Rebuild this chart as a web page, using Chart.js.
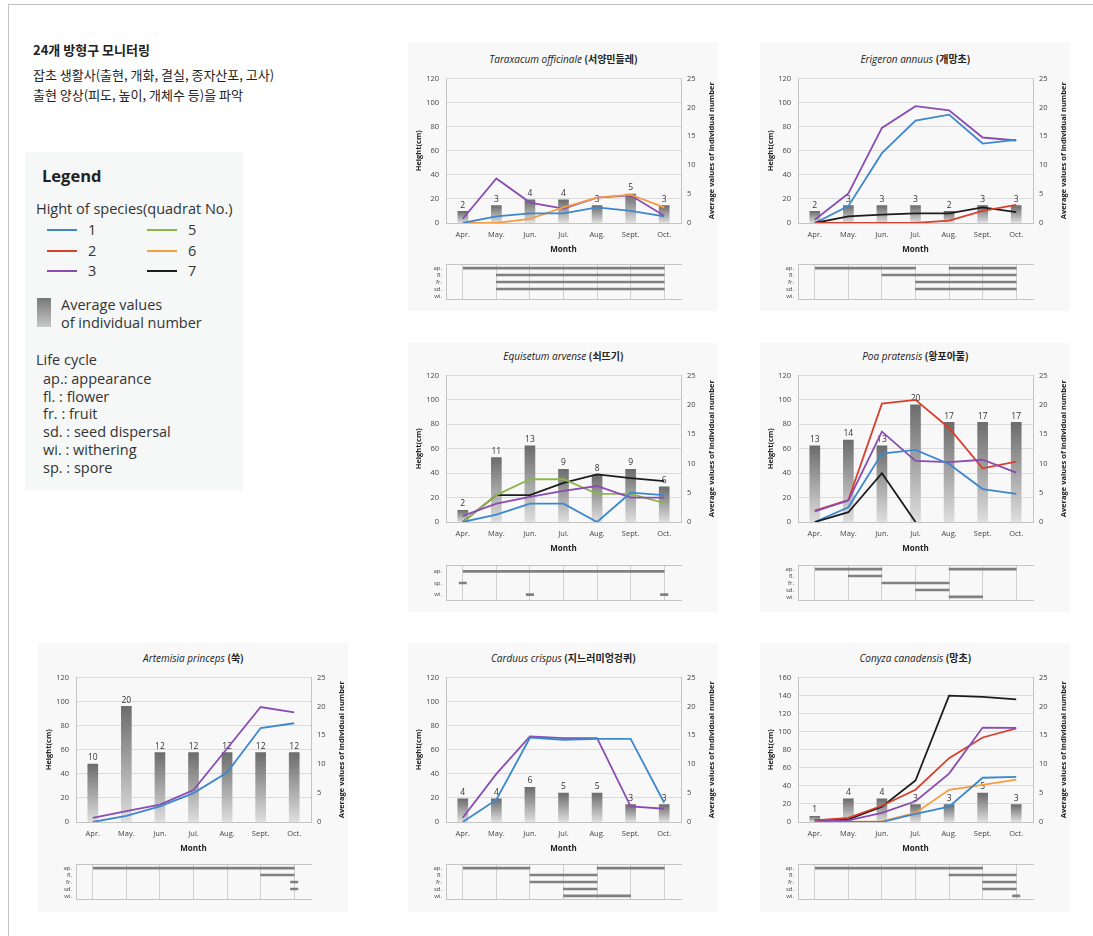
<!DOCTYPE html>
<html>
<head>
<meta charset="utf-8">
<title>24개 방형구 모니터링</title>
<script src="https://cdn.jsdelivr.net/npm/chart.js@4.4.1/dist/chart.umd.min.js"></script>
<style>
  html, body { margin: 0; padding: 0; }
  body { width: 1093px; height: 936px; position: relative; overflow: hidden; background: #fff;
         font-family: "Noto Sans CJK KR", "Noto Sans", sans-serif; color: #222; }
  .frame { position: absolute; left: 8px; top: 4px; width: 1100px; height: 940px;
           border-left: 1px solid #c2c2c2; border-top: 1px solid #c2c2c2; }
  .head { position: absolute; left: 33px; white-space: nowrap; font-size: 13px; line-height: 1; transform: translateY(-50%); }
  .head.b { font-weight: bold; }
  .legend-box { position: absolute; left: 25px; top: 152px; width: 218px; height: 338px; background: #f6f8f8; }
  .lg { position: absolute; white-space: nowrap; font-family: "Open Sans", "Noto Sans", sans-serif; font-size: 14.5px;
        line-height: 1; transform: translateY(-50%); color: #333; }
  .lg.big { font-weight: bold; font-size: 16.5px; color: #222; }
  .swatch { position: absolute; height: 2px; width: 30px; }
  .panel { position: absolute; background: #f8f8f8; }
  .ptitle { position: absolute; white-space: nowrap; font-size: 10px; line-height: 1; color: #222;
            transform: translate(-50%, -50%); }
  .ptitle i { font-family: "Open Sans", "Noto Sans", sans-serif; font-style: italic; }
  .ptitle b { font-family: "Noto Sans CJK KR", sans-serif; font-weight: bold; }
  canvas { position: absolute; }
</style>
</head>
<body>
<div class="frame"></div>

<div class="head b" style="top:49px">24개 방형구 모니터링</div>
<div class="head" style="top:74px">잡초 생활사(출현, 개화, 결실, 종자산포, 고사)</div>
<div class="head" style="top:94px">출현 양상(피도, 높이, 개체수 등)을 파악</div>

<div class="legend-box"></div>
<div id="legend"></div>

<script>
// ---- categories ----
const months = ['Apr.', 'May.', 'Jun.', 'Jul.', 'Aug.', 'Sept.', 'Oct.'];
const cycleRows = ['ap.', 'fl.', 'fr.', 'sd.', 'wi.'];
const sporeRows = ['ap.', 'sp.', 'wi.'];
const heightStep = 20;
const countMax = 25;
const countStep = 5;

// ---- Taraxacum officinale (서양민들레) ----
const taraxacumCount = [2, 3, 4, 4, 3, 5, 3];
const taraxacumQ1 = [0, 5.5, 8, 8, 13, 10, 5.5];
const taraxacumQ3 = [3.5, 37, 17, 12, 21, 23, 6];
const taraxacumQ6 = [0, 0, 3.5, 13, 21, 23.5, 13];
// life cycle segments: [row, first month, last month]
const taraxacumCycle = [[0, 0, 6], [1, 1, 6], [2, 1, 6], [3, 1, 6]];

// ---- Erigeron annuus (개망초) ----
const erigeronCount = [2, 3, 3, 3, 2, 3, 3];
const erigeronQ1 = [0, 14, 58, 85, 90, 66, 69];
const erigeronQ2 = [0, 0, 0, 0, 2, 10, 15];
const erigeronQ3 = [2.7, 24.5, 79, 97, 93.5, 71, 68.5];
const erigeronQ7 = [0, 5.5, 7, 8, 8, 13, 9];
const erigeronCycle = [[0, 0, 3], [0, 4, 6], [1, 2, 6], [2, 3, 6], [3, 3, 6]];

// ---- Equisetum arvense (쇠뜨기) ----
const equisetumCount = [2, 11, 13, 9, 8, 9, 6];
const equisetumQ1 = [0, 6, 15, 15, 0, 24, 22];
const equisetumQ3 = [5, 15, 20.5, 25.5, 29.5, 20, 20];
const equisetumQ5 = [0, 22, 35, 35, 23, 23, 15.5];
const equisetumQ7 = [0, 22, 22, 32, 39, 36, 33.5];
const equisetumCycle = [[0, 0, 6], [1, 0, 0], [2, 2, 2], [2, 6, 6]];

// ---- Poa pratensis (왕포아풀) ----
const poaCount = [13, 14, 13, 20, 17, 17, 17];
const poaQ1 = [0, 12, 56, 59, 47.5, 27, 23];
const poaQ2 = [9.3, 18, 97, 100, 77, 44, 49.5];
const poaQ3 = [8.7, 17.7, 74, 50, 49, 51, 40.5];
const poaQ7 = [0, 8, 40, 0, null, null, null];
const poaCycle = [[0, 0, 2], [0, 4, 6], [1, 1, 2], [2, 2, 4], [3, 3, 4], [4, 4, 5]];

// ---- Artemisia princeps (쑥) ----
const artemisiaCount = [10, 20, 12, 12, 12, 12, 12];
const artemisiaQ1 = [0, 5, 13, 24, 41, 78, 82];
const artemisiaQ3 = [3.5, 9, 14.5, 26.5, 61, 95.5, 91];
const artemisiaCycle = [[0, 0, 6], [1, 5, 6], [2, 6, 6], [3, 6, 6]];

// ---- Carduus crispus (지느러미엉겅퀴) ----
const carduusCount = [4, 4, 6, 5, 5, 3, 3];
const carduusQ1 = [0, 18.5, 70, 68.3, 69, 69, 16];
const carduusQ3 = [3.5, 40, 71, 69.7, 69.7, 13, 11];
const carduusCycle = [[0, 0, 2], [0, 4, 6], [1, 2, 4], [2, 2, 4], [3, 3, 4], [4, 3, 5]];

// ---- Conyza canadensis (망초) ----
const conyzaCount = [1, 4, 4, 3, 3, 5, 3];
const conyzaQ1 = [0, 0, 0, 9, 17, 49, 50];
const conyzaQ2 = [1.8, 4.6, 18, 35.7, 70.7, 93.6, 103.6];
const conyzaQ3 = [0.7, 1.8, 10, 23, 53.6, 104.6, 104.3];
const conyzaQ6 = [0, 0, 0.7, 10, 35.7, 41, 47];
const conyzaQ7 = [1.8, 2.9, 17, 46, 140, 138.6, 135.7];
const conyzaCycle = [[0, 0, 5], [1, 4, 6], [2, 5, 6], [3, 5, 6], [4, 6, 6]];

// ---- quadrat colours ----
const quadratColors = { 1: '#3d87cf', 2: '#d8402e', 3: '#8a4cb3', 5: '#8cb64b', 6: '#f59d45', 7: '#1c1c1c' };

// ---- page geometry ----
const PANEL_W = 310, PANEL_H = 269;
const AXIS_L = 38, PLOT_W = 235, AXIS_R = PANEL_W - AXIS_L - PLOT_W;
const PAD_T = 8, X_AXIS_H = 32, STRIP_H = 50;
const DASH = 0.11; // half width of a single-month life-cycle mark
const rowGeom = [
  { panelTop: 42,  plotTop: 75,  plotH: 148, stripTop: 257 },
  { panelTop: 343, plotTop: 372, plotH: 150, stripTop: 558 },
  { panelTop: 643, plotTop: 674, plotH: 148, stripTop: 857 }
];

const panels = [
  { x: 408, row: 0, latin: 'Taraxacum officinale', korean: '(서양민들레)', hMax: 120, count: taraxacumCount,
    lines: [[1, taraxacumQ1], [6, taraxacumQ6], [3, taraxacumQ3]], rows: cycleRows, cycle: taraxacumCycle },
  { x: 760, row: 0, latin: 'Erigeron annuus', korean: '(개망초)', hMax: 120, count: erigeronCount,
    lines: [[2, erigeronQ2], [7, erigeronQ7], [1, erigeronQ1], [3, erigeronQ3]], rows: cycleRows, cycle: erigeronCycle },
  { x: 408, row: 1, latin: 'Equisetum arvense', korean: '(쇠뜨기)', hMax: 120, count: equisetumCount,
    lines: [[1, equisetumQ1], [3, equisetumQ3], [5, equisetumQ5], [7, equisetumQ7]], rows: sporeRows, cycle: equisetumCycle },
  { x: 760, row: 1, latin: 'Poa pratensis', korean: '(왕포아풀)', hMax: 120, count: poaCount,
    lines: [[7, poaQ7], [1, poaQ1], [3, poaQ3], [2, poaQ2]], rows: cycleRows, cycle: poaCycle },
  { x: 38, row: 2, latin: 'Artemisia princeps', korean: '(쑥)', hMax: 120, count: artemisiaCount,
    lines: [[1, artemisiaQ1], [3, artemisiaQ3]], rows: cycleRows, cycle: artemisiaCycle },
  { x: 408, row: 2, latin: 'Carduus crispus', korean: '(지느러미엉겅퀴)', hMax: 120, count: carduusCount,
    lines: [[1, carduusQ1], [3, carduusQ3]], rows: cycleRows, cycle: carduusCycle },
  { x: 760, row: 2, latin: 'Conyza canadensis', korean: '(망초)', hMax: 160, count: conyzaCount,
    lines: [[1, conyzaQ1], [6, conyzaQ6], [3, conyzaQ3], [2, conyzaQ2], [7, conyzaQ7]], rows: cycleRows, cycle: conyzaCycle }
];

Chart.defaults.font.family = '"Open Sans", "Noto Sans", sans-serif';
Chart.defaults.color = '#444';

// count labels above each bar, drawn right after the bars so lines pass over them
const barLabels = {
  id: 'barLabels',
  afterDatasetDraw(chart, args) {
    if (args.index !== 0) return;
    const ctx = chart.ctx;
    const values = chart.data.datasets[0].data;
    ctx.save();
    ctx.font = '8.5px "Open Sans", "Noto Sans", sans-serif';
    ctx.fillStyle = '#333';
    ctx.textAlign = 'center';
    ctx.textBaseline = 'bottom';
    args.meta.data.forEach((el, i) => ctx.fillText(String(values[i]), el.x, el.y - 2));
    ctx.restore();
  }
};

// right-hand axis title, reading upward
const rightTitle = {
  id: 'rightTitle',
  afterDraw(chart) {
    const a = chart.chartArea, ctx = chart.ctx;
    ctx.save();
    ctx.translate(a.right + 31, (a.top + a.bottom) / 2);
    ctx.rotate(-Math.PI / 2);
    ctx.font = 'bold 7.5px "Open Sans", "Noto Sans", sans-serif';
    ctx.fillStyle = '#222';
    ctx.textAlign = 'center';
    ctx.textBaseline = 'middle';
    ctx.fillText('Average values of individual number', 0, 0);
    ctx.restore();
  }
};

function barGradient(c) {
  const chart = c.chart;
  const y2 = chart.scales.y2;
  if (!chart.chartArea || !y2 || c.type !== 'data') return '#9a9a9a';
  const top = y2.getPixelForValue(c.raw);
  const bottom = y2.getPixelForValue(0);
  if (!isFinite(top) || !isFinite(bottom) || bottom - top < 1) return '#9a9a9a';
  const g = chart.ctx.createLinearGradient(0, top, 0, bottom);
  g.addColorStop(0, '#6c6c6c');
  g.addColorStop(1, '#dedede');
  return g;
}

function addCanvas(left, top, w, h) {
  const cv = document.createElement('canvas');
  cv.width = w; cv.height = h;
  cv.style.left = left + 'px'; cv.style.top = top + 'px';
  cv.style.width = w + 'px'; cv.style.height = h + 'px';
  document.body.appendChild(cv);
  return cv;
}

function buildPanel(p) {
  const g = rowGeom[p.row];

  const bg = document.createElement('div');
  bg.className = 'panel';
  Object.assign(bg.style, { left: p.x + 'px', top: g.panelTop + 'px', width: PANEL_W + 'px', height: PANEL_H + 'px' });
  document.body.appendChild(bg);

  const t = document.createElement('div');
  t.className = 'ptitle';
  t.innerHTML = '<i>' + p.latin + '</i> <b>' + p.korean + '</b>';
  t.style.left = (p.x + AXIS_L + PLOT_W / 2) + 'px';
  t.style.top = (g.plotTop - 16) + 'px';
  document.body.appendChild(t);

  // height lines + individual-count bars
  const main = addCanvas(p.x, g.plotTop - PAD_T, PANEL_W, PAD_T + g.plotH + X_AXIS_H);
  const datasets = [{
    type: 'bar', data: p.count, yAxisID: 'y2', order: 2,
    backgroundColor: barGradient, borderWidth: 0, barThickness: 10
  }];
  p.lines.forEach(([q, values]) => datasets.push({
    type: 'line', data: values, yAxisID: 'y', order: 1,
    borderColor: quadratColors[q], borderWidth: 1.8, pointRadius: 0, tension: 0, fill: false, spanGaps: false
  }));

  new Chart(main, {
    type: 'bar',
    data: { labels: months, datasets },
    options: {
      responsive: false, animation: false, events: [],
      layout: { padding: { top: PAD_T, left: 0, right: 0, bottom: 0 }, autoPadding: false },
      plugins: { legend: { display: false }, tooltip: { enabled: false } },
      scales: {
        x: {
          type: 'category', offset: true,
          grid: { display: false, drawTicks: false },
          border: { color: '#c4c4c4' },
          ticks: { font: { size: 7.5 }, color: '#444', padding: 7, autoSkip: false, maxRotation: 0 },
          title: { display: true, text: 'Month', font: { size: 8, weight: 'bold' }, color: '#222', padding: { top: 2, bottom: 0 } },
          afterFit: s => { s.height = X_AXIS_H; }
        },
        y: {
          position: 'left', min: 0, max: p.hMax,
          ticks: { stepSize: heightStep, font: { size: 7.5 }, color: '#444', padding: 7 },
          grid: { color: '#dadada', drawTicks: false },
          border: { color: '#c4c4c4' },
          title: { display: true, text: 'Height(cm)', font: { size: 7.5, weight: 'bold' }, color: '#222', padding: { top: 6, bottom: 0 } },
          afterFit: s => { s.width = AXIS_L; }
        },
        y2: {
          position: 'right', min: 0, max: countMax,
          ticks: { stepSize: countStep, font: { size: 7.5 }, color: '#444', padding: 6 },
          grid: { drawOnChartArea: false, drawTicks: false },
          border: { color: '#c4c4c4' },
          afterFit: s => { s.width = AXIS_R; }
        }
      }
    },
    plugins: [barLabels, rightTitle]
  });

  // life-cycle strip on the same month positions
  const strip = addCanvas(p.x, g.stripTop, PANEL_W, STRIP_H);
  const segs = p.cycle.map(([r, s, e]) => ({ y: p.rows[r], x: s === e ? [s - DASH, s + DASH] : [s, e] }));
  new Chart(strip, {
    type: 'bar',
    data: { labels: p.rows, datasets: [{ data: segs, backgroundColor: '#808080', borderWidth: 0, barThickness: 2, grouped: false }] },
    options: {
      indexAxis: 'y', responsive: false, animation: false, events: [],
      layout: { padding: { top: 1, bottom: 1, left: 0, right: AXIS_R }, autoPadding: false },
      plugins: { legend: { display: false }, tooltip: { enabled: false } },
      scales: {
        x: {
          type: 'linear', min: -0.5, max: months.length - 0.5,
          afterBuildTicks: s => { s.ticks = months.map((_, i) => ({ value: i })); },
          ticks: { display: false },
          grid: { color: '#cfcfcf', drawTicks: false },
          border: { color: '#c4c4c4' },
          afterFit: s => { s.height = 0; }
        },
        xTop: {
          type: 'linear', position: 'top', min: -0.5, max: months.length - 0.5,
          ticks: { display: false },
          grid: { display: false, drawTicks: false },
          border: { color: '#c4c4c4' },
          afterFit: s => { s.height = 0; }
        },
        y: {
          type: 'category',
          ticks: { font: { size: 6 }, color: '#444', padding: 4, autoSkip: false },
          grid: { display: false, drawTicks: false },
          border: { color: '#c4c4c4' },
          afterFit: s => { s.width = AXIS_L; }
        }
      }
    }
  });
}

panels.forEach(buildPanel);

// ---- legend ----
const legend = document.getElementById('legend');
function lg(text, left, top, cls) {
  const d = document.createElement('div');
  d.className = 'lg' + (cls ? ' ' + cls : '');
  d.textContent = text;
  d.style.left = left + 'px'; d.style.top = top + 'px';
  legend.appendChild(d);
}
function sw(color, left, top) {
  const d = document.createElement('div');
  d.className = 'swatch';
  d.style.background = color; d.style.left = left + 'px'; d.style.top = (top - 1) + 'px';
  legend.appendChild(d);
}
lg('Legend', 42, 176, 'big');
lg('Hight of species(quadrat No.)', 36, 209);
[[1, 0, 0], [2, 0, 1], [3, 0, 2], [5, 1, 0], [6, 1, 1], [7, 1, 2]].forEach(([q, col, row]) => {
  const y = 230 + row * 20.5;
  const x = col === 0 ? 47 : 147;
  sw(quadratColors[q], x, y);
  lg(String(q), x + 41, y);
});
const bar = document.createElement('div');
Object.assign(bar.style, { position: 'absolute', left: '37px', top: '298px', width: '14px', height: '29px',
  background: 'linear-gradient(#777, #c8c8c8)' });
legend.appendChild(bar);
lg('Average values', 61, 305);
lg('of individual number', 61, 323);
lg('Life cycle', 36, 360);
[['ap.:  appearance', 379], ['fl. :  flower', 397], ['fr. :  fruit', 414], ['sd. :  seed dispersal', 432],
 ['wi. :  withering', 450], ['sp. : spore', 468]].forEach(([t, y]) => lg(t, 43, y));
</script>
</body>
</html>
